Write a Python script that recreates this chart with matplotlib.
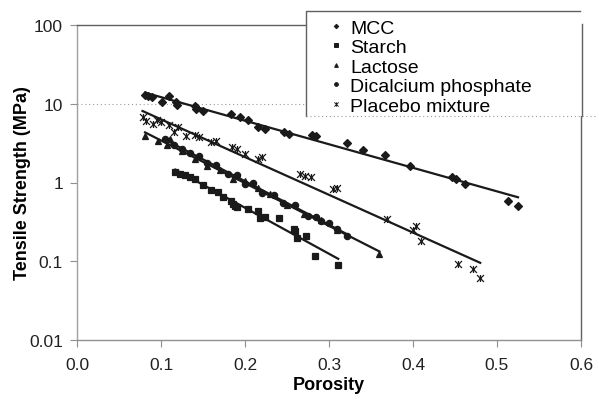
import numpy as np
import matplotlib
matplotlib.use("Agg")
import matplotlib.pyplot as plt
from matplotlib.lines import Line2D
from matplotlib.patches import Rectangle
from matplotlib.path import Path

plt.rcParams['font.family'] = ['Liberation Sans', 'DejaVu Sans']

# porosity / tensile strength (MPa) per material
mcc_p = [0.081, 0.085, 0.089, 0.101, 0.110, 0.118, 0.119, 0.140, 0.142, 0.150,
         0.183, 0.194, 0.204, 0.216, 0.224, 0.246, 0.252, 0.280, 0.284, 0.321,
         0.341, 0.367, 0.396, 0.446, 0.451, 0.462, 0.513, 0.525]
mcc_ts = [13.0, 12.6, 12.3, 10.6, 12.6, 10.6, 9.7, 9.4, 8.6, 8.15,
          7.46, 6.7, 6.3, 5.1, 4.8, 4.4, 4.16, 4.0, 3.9, 3.2,
          2.61, 2.25, 1.63, 1.18, 1.11, 0.96, 0.59, 0.51]

starch_p = [0.117, 0.123, 0.129, 0.135, 0.141, 0.150, 0.159, 0.168, 0.174, 0.183,
            0.186, 0.188, 0.191, 0.203, 0.216, 0.218, 0.224, 0.240, 0.258, 0.260,
            0.262, 0.273, 0.283, 0.311]
starch_ts = [1.37, 1.29, 1.25, 1.18, 1.12, 0.94, 0.81, 0.76, 0.66, 0.59,
             0.54, 0.51, 0.49, 0.46, 0.43, 0.35, 0.37, 0.35, 0.26, 0.24,
             0.20, 0.21, 0.117, 0.090]

lactose_p = [0.081, 0.097, 0.107, 0.111, 0.125, 0.141, 0.155, 0.170, 0.186, 0.200,
             0.215, 0.230, 0.250, 0.270, 0.290, 0.310, 0.360]
lactose_ts = [3.93, 3.4, 3.0, 3.6, 2.5, 2.0, 1.63, 1.45, 1.1, 1.05,
              0.85, 0.72, 0.52, 0.40, 0.33, 0.25, 0.124]

dcp_p = [0.105, 0.115, 0.125, 0.135, 0.145, 0.155, 0.165, 0.180, 0.190, 0.200,
         0.210, 0.220, 0.235, 0.245, 0.260, 0.275, 0.285, 0.290, 0.300, 0.310, 0.322]
dcp_ts = [3.6, 3.0, 2.7, 2.4, 2.2, 1.75, 1.65, 1.3, 1.25, 0.95,
          0.98, 0.74, 0.70, 0.55, 0.52, 0.38, 0.36, 0.32, 0.31, 0.26, 0.21]

placebo_p = [0.078, 0.082, 0.090, 0.095, 0.100, 0.110, 0.115, 0.120, 0.130, 0.140,
             0.145, 0.160, 0.165, 0.185, 0.190, 0.200, 0.215, 0.220, 0.265, 0.272,
             0.278, 0.305, 0.310, 0.369, 0.400, 0.404, 0.410, 0.453, 0.471, 0.480]
placebo_ts = [6.8, 6.0, 5.6, 6.2, 5.9, 5.3, 4.4, 5.1, 3.9, 4.0,
              3.8, 3.3, 3.4, 2.85, 2.7, 2.3, 2.0, 2.1, 1.3, 1.22,
              1.18, 0.83, 0.84, 0.34, 0.25, 0.28, 0.18, 0.093, 0.079, 0.062]

# Excel-style star: an X with a vertical bar through it
star = Path([(-1, -1), (1, 1), (-1, 1), (1, -1), (0, -1), (0, 1)],
            [Path.MOVETO, Path.LINETO, Path.MOVETO, Path.LINETO,
             Path.MOVETO, Path.LINETO])

series = [
    ("MCC", mcc_p, mcc_ts, "D", 3.8),
    ("Starch", starch_p, starch_ts, "s", 4.3),
    ("Lactose", lactose_p, lactose_ts, "^", 4.5),
    ("Dicalcium phosphate", dcp_p, dcp_ts, "o", 4.5),
    ("Placebo mixture", placebo_p, placebo_ts, star, 5.0),
]

W, H = 599, 402
fig = plt.figure(figsize=(W / 100, H / 100), dpi=100)
ax = fig.add_axes([77 / W, 1 - 341 / H, (581 - 77) / W, (341 - 26) / H])

ink = "#1a1a1a"
handles = []
for name, p, ts, mk, ms in series:
    p = np.asarray(p)
    ts = np.asarray(ts)
    ax.plot(p, ts, linestyle="none", marker=mk, ms=ms, color=ink,
            mec=ink, mew=0.9, zorder=3)
    # exponential fit drawn over the data range
    b, a = np.polyfit(p, np.log10(ts), 1)
    xs = np.array([p.min(), p.max()])
    ax.plot(xs, 10 ** (a + b * xs), color=ink, lw=1.6, zorder=2)
    handles.append(Line2D([], [], linestyle="none", marker=mk, ms=ms * 0.6,
                          color=ink, mec=ink, mew=0.7))

ax.set_yscale("log")
ax.set_xlim(0, 0.6)
ax.set_ylim(0.01, 100)
ax.set_xticks(np.arange(0, 0.61, 0.1))
ax.set_xticklabels([f"{v:.1f}" for v in np.arange(0, 0.61, 0.1)])
ax.set_yticks([0.01, 0.1, 1, 10, 100])
ax.set_yticklabels(["0.01", "0.1", "1", "10", "100"])
ax.minorticks_off()
ax.axhline(10, color="#9a9a9a", lw=0.8, ls=(0, (1, 2.5)), zorder=1)

for side, c in [("left", "#a0a0a0"), ("bottom", "#909090"),
                ("top", "#606060"), ("right", "#606060")]:
    ax.spines[side].set_color(c)
    ax.spines[side].set_linewidth(1.0)
ax.tick_params(axis="both", direction="out", length=5, width=0.8,
               color="#909090", labelsize=12.5, labelcolor="#222222")
ax.tick_params(axis="x", pad=7)
ax.tick_params(axis="y", pad=5)

ax.set_xlabel("Porosity", fontsize=13, fontweight="bold", labelpad=3)
ax.set_ylabel("Tensile Strength (MPa)", fontsize=13, fontweight="bold")
ax.yaxis.set_label_coords((31 - 77) / 504, 0.5)

# legend box sitting over the top-right of the plot
def px(x, y):
    return x / W, 1 - y / H

x0, y0 = px(306, 12)
x1, y1 = px(597, 117)
fig.add_artist(Rectangle((x0, y1), x1 - x0, y0 - y1, transform=fig.transFigure,
                         facecolor="white", edgecolor="none", zorder=3))
fig.add_artist(Line2D([x0, x0, px(580, 0)[0]], [y1, y0, y0],
                      transform=fig.transFigure, color="#606060", lw=1.0, zorder=4))
fig.add_artist(Line2D([px(581.5, 0)[0]] * 2, [px(0, 25)[1], y1],
                      transform=fig.transFigure, color="#606060", lw=1.0, zorder=4))
fig.add_artist(Line2D([x0, x1], [y1, y1], transform=fig.transFigure,
                      color="#9a9a9a", lw=0.8, ls=(0, (1, 2.5)), zorder=4))

fig.legend(handles, [s[0] for s in series], loc="upper left",
           bbox_to_anchor=px(327, 18), frameon=False, fontsize=14,
           handlelength=0.7, handletextpad=0.4, labelspacing=0.1,
           borderpad=0.1, borderaxespad=0)

fig.savefig("out.png", dpi=100)
